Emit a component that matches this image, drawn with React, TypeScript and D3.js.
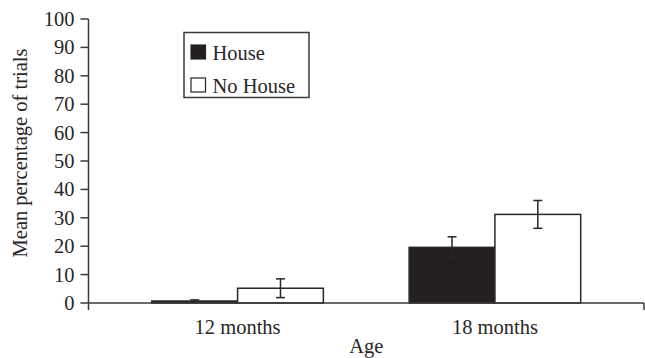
import React from "react";
import * as d3 from "d3";

// Age groups, conditions and per-group means / standard errors (percent of trials)
const ageGroups = ["12 months", "18 months"];
const conditions = ["House", "No House"];
const houseMeans = [0.7, 19.6];
const houseErrors = [0.4, 3.7];
const noHouseMeans = [5.2, 31.2];
const noHouseErrors = [3.3, 4.9];
const yTicks = [0, 10, 20, 30, 40, 50, 60, 70, 80, 90, 100];

const W = 645;
const H = 358;
const FONT = "'Liberation Serif', 'Times New Roman', serif";
const INK = "#2a2627";
const AXIS = "#3a3a3a";

const fills: Record<string, string> = { House: "#231f20", "No House": "#ffffff" };

export default function App() {
  const left = 88.5;
  const right = 644;
  const top = 19;
  const bottom = 303;

  const y = d3.scaleLinear().domain([0, 100]).range([bottom, top]);
  const x = d3
    .scaleBand<string>()
    .domain(ageGroups)
    .range([left, right])
    .paddingInner(1 / 3)
    .paddingOuter(0.246);
  const xInner = d3.scaleBand<string>().domain(conditions).range([0, x.bandwidth()]);

  const rows = ageGroups.flatMap((age, i) => [
    { age, cond: "House", mean: houseMeans[i], err: houseErrors[i] },
    { age, cond: "No House", mean: noHouseMeans[i], err: noHouseErrors[i] },
  ]);

  const cap = 4.5;

  return (
    <svg
      width={W}
      height={H}
      style={{ position: "absolute", left: 0, top: 0, background: "#fff" }}
      fontFamily={FONT}
    >
      {/* bars */}
      {rows.map((r) => {
        const bx = (x(r.age) ?? 0) + (xInner(r.cond) ?? 0);
        const bw = xInner.bandwidth();
        return (
          <rect
            key={r.age + r.cond}
            x={bx}
            y={y(r.mean)}
            width={bw}
            height={y(0) - y(r.mean)}
            fill={fills[r.cond]}
            stroke={INK}
            strokeWidth={1.5}
          />
        );
      })}

      {/* error bars */}
      {rows.map((r) => {
        const cx = (x(r.age) ?? 0) + (xInner(r.cond) ?? 0) + xInner.bandwidth() / 2;
        const y1 = y(r.mean + r.err);
        const y0 = y(Math.max(0, r.mean - r.err));
        return (
          <g key={"e" + r.age + r.cond} stroke={INK} strokeWidth={1.5}>
            <line x1={cx} x2={cx} y1={y1} y2={y0} />
            <line x1={cx - cap} x2={cx + cap} y1={y1} y2={y1} />
            <line x1={cx - cap} x2={cx + cap} y1={y0} y2={y0} />
          </g>
        );
      })}

      {/* y axis */}
      <line x1={left} x2={left} y1={top} y2={bottom + 7} stroke={AXIS} strokeWidth={1.5} />
      {yTicks.map((t) => (
        <g key={t}>
          <line x1={left - 8} x2={left} y1={y(t)} y2={y(t)} stroke={AXIS} strokeWidth={1.5} />
          <text
            x={left - 14}
            y={y(t)}
            dy="0.34em"
            textAnchor="end"
            fontSize={20.5}
            fill={INK}
          >
            {t}
          </text>
        </g>
      ))}

      {/* x axis */}
      <line x1={left} x2={right} y1={bottom} y2={bottom} stroke={AXIS} strokeWidth={1.5} />
      <line x1={right} x2={right} y1={bottom} y2={bottom + 7} stroke={AXIS} strokeWidth={1.5} />
      {ageGroups.map((a) => (
        <text
          key={a}
          x={(x(a) ?? 0) + x.bandwidth() / 2}
          y={334}
          textAnchor="middle"
          fontSize={20.5}
          fill={INK}
        >
          {a}
        </text>
      ))}

      {/* axis titles */}
      <text x={(left + right) / 2} y={353} textAnchor="middle" fontSize={20.5} fill={INK}>
        Age
      </text>
      <text
        transform={`translate(27,${(top + bottom) / 2 - 8}) rotate(-90)`}
        textAnchor="middle"
        fontSize={20.5}
        fill={INK}
      >
        Mean percentage of trials
      </text>

      {/* legend */}
      <g>
        <rect x={184} y={32.5} width={125} height={65} fill="#fff" stroke={AXIS} strokeWidth={1.5} />
        {conditions.map((c, i) => (
          <g key={c} transform={`translate(0,${i * 33})`}>
            <rect
              x={191}
              y={45}
              width={14.5}
              height={14}
              fill={fills[c]}
              stroke={INK}
              strokeWidth={1.2}
            />
            <text x={212.5} y={59.5} fontSize={20.5} fill={INK}>
              {c}
            </text>
          </g>
        ))}
      </g>
    </svg>
  );
}
